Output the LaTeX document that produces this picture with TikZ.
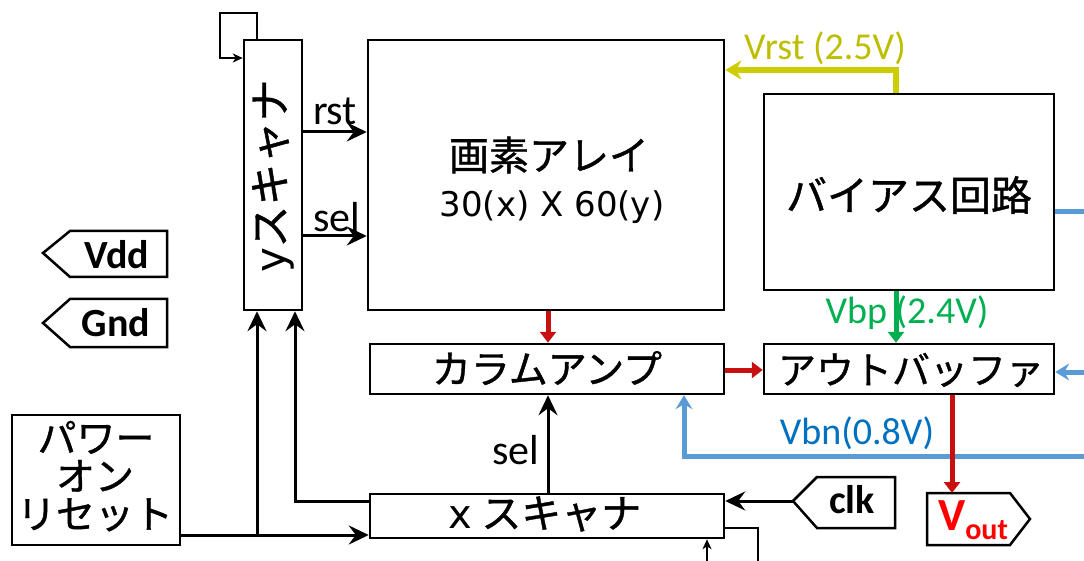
\documentclass[tikz,border=0pt]{standalone}
\usepackage{fontspec}
\setmainfont{Carlito}
\newfontfamily\jp[FakeBold=1]{Noto Sans CJK JP}
\newfontfamily\lat{DejaVu Sans}
\usetikzlibrary{arrows.meta,calc}
\definecolor{myred}{RGB}{200,16,16}
\definecolor{myyel}{RGB}{205,205,0}
\definecolor{myyeltxt}{RGB}{190,190,0}
\definecolor{mygreen}{RGB}{0,176,80}
\definecolor{myblue}{RGB}{91,155,213}
\definecolor{mybluetxt}{RGB}{0,112,192}
\tikzset{
  box/.style={draw=black,line width=2.5pt,fill=white,inner sep=0pt},
  pin/.style={draw=black,line width=2.5pt,fill=white,line join=miter},
  arr/.style={line width=3pt,-{Stealth[length=20pt,width=19pt,inset=7pt]}},
  thin/.style={line width=2pt},
  thinarr/.style={line width=2pt,-{Stealth[length=10pt,width=9pt,inset=3pt]}},
  redarr/.style={line width=5pt,myred,-{Triangle[length=11pt,width=16pt]}},
  yelarr/.style={line width=6pt,myyel,-{Stealth[length=16pt,width=19pt,inset=5pt]}},
  grnarr/.style={line width=5pt,mygreen,-{Triangle[length=11pt,width=16pt]}},
  bluarr/.style={line width=5pt,myblue,-{Stealth[length=14pt,width=17pt,inset=5pt]}},
  blu/.style={line width=5pt,myblue},
  porl/.style={font=\jp\fontsize{39}{40}\selectfont,inner sep=0pt,text height=28pt,text depth=3pt},
  lab/.style={font=\fontsize{38}{40}\selectfont,inner sep=0pt},
  blab/.style={font=\fontsize{42}{44}\selectfont,inner sep=0pt},
  pint/.style={font=\bfseries\fontsize{40}{42}\selectfont},
}
\begin{document}
\begin{tikzpicture}[x=1pt,y=-1pt]
\useasboundingbox (0,0) rectangle (1084,561);
% boxes
\node[box,minimum width=58pt,minimum height=270pt] (ysc) at (273,175) {};
\node[font=\jp\fontsize{42}{44}\selectfont,rotate=90] (ysct) at (273,176) {{\lat y}スキャナ};
\node[box,minimum width=356pt,minimum height=270pt] (pix) at (546,175) {};
\node[font=\jp\fontsize{40}{44}\selectfont] (pixt1) at (549,155) {画素アレイ};
\node[font=\lat\fontsize{34}{38}\selectfont] (pixt2) at (552,207) {30(x) X 60(y)};
\node[box,minimum width=354pt,minimum height=50pt] (col) at (547,369) {};
\node[font=\jp\fontsize{39}{44}\selectfont] (colt) at (547,368) {カラムアンプ};
\node[box,minimum width=290pt,minimum height=196pt] (bias) at (909,192) {};
\node[font=\jp\fontsize{41}{44}\selectfont] (biast) at (909,195) {バイアス回路};
\node[box,minimum width=290pt,minimum height=50pt] (obuf) at (909,369) {};
\node[font=\jp\fontsize{38}{44}\selectfont] (obuft) at (911,370) {アウトバッファ};
\node[box,minimum width=354pt,minimum height=44pt] (xsc) at (547,516) {};
\node[font=\jp\fontsize{40}{44}\selectfont] (xsct) at (545,514) {{\lat x} スキャナ};
\node[box,minimum width=168pt,minimum height=130pt] (por) at (96,480) {};
\node[porl] (por1) at (96,440) {パワー};
\node[porl] (por2) at (95,478) {オン};
\node[porl] (por3) at (95,516) {リセット};
% pins
\draw[pin] (43,253) -- (70,231) -- (167,231) -- (167,277) -- (70,277) -- cycle;
\node[pint] (vdd) at (117,255) {Vdd};
\draw[pin] (43,323) -- (70,299) -- (167,299) -- (167,347) -- (70,347) -- cycle;
\node[pint] (gnd) at (116,323) {Gnd};
\draw[pin] (793,501) -- (817,477) -- (895,477) -- (895,528) -- (817,528) -- cycle;
\coordinate (clktip) at (793,501);
\node[pint] (clk) at (852,500) {clk};
\draw[pin] (927,493) -- (1010,493) -- (1030,519) -- (1010,545) -- (927,545) -- cycle;
\coordinate (vouttop) at (952,493);
\node[font=\bfseries\fontsize{46}{48}\selectfont,text=red,inner sep=0pt] (vout) at (973,520) {V\raisebox{-9pt}{\fontsize{30}{32}\selectfont out}};
% labels
\node[blab] (rstl) at (335,111) {rst};
\node[blab] (sell) at (337,217) {sel};
\node[blab] (sel2) at (516,450) {sel};
\node[lab,text=myyeltxt] (vrstl) at (825,48) {Vrst (2.5V)};
\node[lab,text=mygreen] (vbpl) at (907,313) {Vbp (2.4V)};
\node[lab,text=mybluetxt] (vbnl) at (857,433) {Vbn(0.8V)};
% connectors
\draw[arr] (ysc.east |- 0,132) -- (pix.west |- 0,132);
\draw[arr] (ysc.east |- 0,236) -- (pix.west |- 0,236);
\draw[redarr] (pix.south -| 548,0) -- (col.north -| 548,0);
\draw[redarr] (col.east |- 0,370) -- (obuf.west |- 0,370);
\draw[yelarr] (bias.north -| 896,0) -- (896,70) -- (pix.east |- 0,70);
\draw[grnarr] (bias.south -| 896,0) -- (obuf.north -| 896,0);
\coordinate (br1) at (1084,212);
\coordinate (br2) at (1084,372);
\coordinate (br3) at (1084,456);
\draw[blu] (bias.east |- br1) -- (br1);
\draw[bluarr] (br2) -- (obuf.east |- br2);
\draw[bluarr] (br3) -- (684,456) -- (col.south -| 684,0);
\draw[redarr] (obuf.south -| vouttop) -- (vouttop);
\draw[arr] (clktip) -- (xsc.east |- clktip);
\draw[arr] (xsc.north -| 548,0) -- (col.south -| 548,0);
\draw[arr] (por.east |- 0,535) -- (xsc.west |- 0,535);
\draw[arr] (257,535) -- (ysc.south -| 257,0);
\draw[arr] (xsc.west |- 0,501) -- (295,501) -- (ysc.south -| 295,0);
% small loops
\coordinate (tl) at (220,13);
\draw[thinarr] (ysc.north -| 257,0) -- (257,13) -- (tl) -- (220,58) -- (ysc.west |- 0,58);
\coordinate (bl1) at (758,561);
\coordinate (bl2) at (707,561);
\draw[thin] (xsc.east |- 0,528) -- (758,528) -- (bl1);
\draw[thinarr] (bl2) -- (xsc.south -| bl2);
\end{tikzpicture}
\end{document}
